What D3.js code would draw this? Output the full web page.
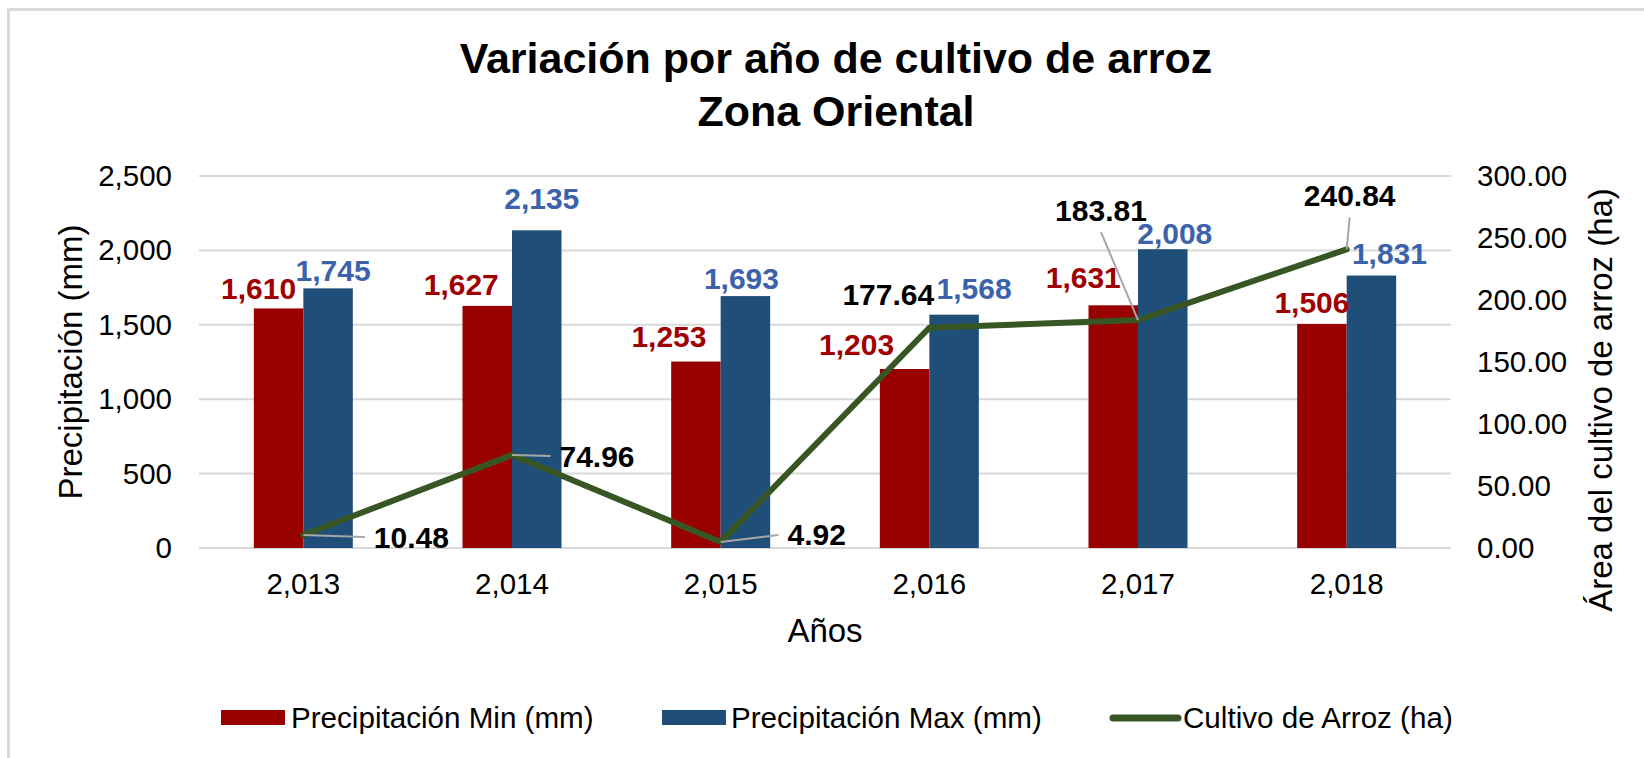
<!DOCTYPE html>
<html lang="es">
<head>
<meta charset="utf-8">
<script src="https://cdn.jsdelivr.net/npm/d3@7"></script>
<style>
  html, body { margin: 0; padding: 0; background: #fff; }
  svg { display: block; font-family: "Liberation Sans", Arial, sans-serif; }
</style>
</head>
<body>
<svg id="chart" width="1644" height="758"></svg>
<script>
// --- data ---------------------------------------------------------------
const years = [2013, 2014, 2015, 2016, 2017, 2018];
const precipMin = [1610, 1627, 1253, 1203, 1631, 1506];
const precipMax = [1745, 2135, 1693, 1568, 2008, 1831];
const riceArea = [10.48, 74.96, 4.92, 177.64, 183.81, 240.84];
const leftTicks = [0, 500, 1000, 1500, 2000, 2500];
const rightTicks = [0, 50, 100, 150, 200, 250, 300];
const seriesNames = ["Precipitación Min (mm)", "Precipitación Max (mm)", "Cultivo de Arroz (ha)"];

// --- hand-placed data label offsets (label centre relative to the mark) --
const minLabelShift = [[-20, -20], [-26, -21], [-27, -25], [-48, -24], [-30, -28], [-10, -21]];
const maxLabelShift = [[5, -18], [5, -32], [-4, -18], [20, -26], [12, -16], [18, -22]];
const areaLabelShift = [[108, 2], [85, 1], [96, -7], [-41, -33], [-37, -110], [3, -54]];
const areaLeader = ["side", "side", "side", "none", "below", "below"];

// --- layout & style -------------------------------------------------------
const plot = { left: 199, right: 1451, top: 176, bottom: 548 };
const barW = 49.5;
const colors = { min: "#990000", max: "#1F4E79", line: "#375623",
                 minText: "#A00000", maxText: "#3B63AB", grid: "#D9D9D9" };
const fTick = 29.5, fAxisTitle = 33, fLabel = 30, fLegend = 29.6, fTitle = 43;

const svg = d3.select("#chart");

// chart frame (left and top edges)
svg.append("line").attr("x1", 8.5).attr("x2", 8.5).attr("y1", 8).attr("y2", 758)
  .attr("stroke", "#D9D9D9").attr("stroke-width", 3);
svg.append("line").attr("x1", 7).attr("x2", 1644).attr("y1", 9.5).attr("y2", 9.5)
  .attr("stroke", "#D9D9D9").attr("stroke-width", 3);

// title
const title = svg.append("text").attr("text-anchor", "middle")
  .attr("font-weight", "bold").attr("font-size", fTitle).attr("fill", "#000");
title.append("tspan").attr("x", 836).attr("y", 73).text("Variación por año de cultivo de arroz");
title.append("tspan").attr("x", 836).attr("y", 126).text("Zona Oriental");

// scales
const x = d3.scaleBand().domain(years).range([plot.left, plot.right]);
const xSub = d3.scaleBand().domain(["min", "max"])
  .range([x.bandwidth() / 2 - barW, x.bandwidth() / 2 + barW]);
const yL = d3.scaleLinear().domain([0, 2500]).range([plot.bottom, plot.top]);
const yR = d3.scaleLinear().domain([0, 300]).range([plot.bottom, plot.top]);

// gridlines
svg.append("g").selectAll("line").data(leftTicks).join("line")
  .attr("x1", plot.left).attr("x2", plot.right)
  .attr("y1", d => yL(d)).attr("y2", d => yL(d))
  .attr("stroke", colors.grid).attr("stroke-width", 2);

// axes
const styleAxis = g => {
  g.select(".domain").remove();
  g.selectAll(".tick line").remove();
  g.selectAll("text").attr("font-size", fTick).attr("fill", "#000")
    .attr("font-family", "Liberation Sans, Arial, sans-serif");
};
svg.append("g").attr("transform", `translate(${plot.left},0)`)
  .call(d3.axisLeft(yL).tickValues(leftTicks).tickFormat(d3.format(",")).tickSize(0).tickPadding(27))
  .call(styleAxis);
svg.append("g").attr("transform", `translate(${plot.right},0)`)
  .call(d3.axisRight(yR).tickValues(rightTicks).tickFormat(d3.format(".2f")).tickSize(0).tickPadding(26))
  .call(styleAxis);
svg.append("g").attr("transform", `translate(0,${plot.bottom})`)
  .call(d3.axisBottom(x).tickFormat(d3.format(",")).tickSize(0).tickPadding(25))
  .call(styleAxis);

// axis titles
svg.append("text").attr("text-anchor", "middle").attr("font-size", fAxisTitle)
  .attr("transform", `translate(${70 + 0.35 * fAxisTitle},362) rotate(-90)`)
  .text("Precipitación (mm)");
svg.append("text").attr("text-anchor", "middle").attr("font-size", fAxisTitle)
  .attr("transform", `translate(${1600 + 0.35 * fAxisTitle},400) rotate(-90)`)
  .text("Área del cultivo de arroz (ha)");
svg.append("text").attr("text-anchor", "middle").attr("font-size", fAxisTitle)
  .attr("x", (plot.left + plot.right) / 2).attr("y", 642).text("Años");

// bars
const rows = years.map((yr, i) => ({ yr, i, min: precipMin[i], max: precipMax[i], area: riceArea[i] }));
const groups = svg.append("g").selectAll("g").data(rows).join("g")
  .attr("transform", d => `translate(${x(d.yr)},0)`);
groups.append("rect").attr("x", xSub("min")).attr("width", xSub.bandwidth())
  .attr("y", d => yL(d.min)).attr("height", d => yL(0) - yL(d.min)).attr("fill", colors.min);
groups.append("rect").attr("x", xSub("max")).attr("width", xSub.bandwidth())
  .attr("y", d => yL(d.max)).attr("height", d => yL(0) - yL(d.max)).attr("fill", colors.max);

// rice area line
const cx = d => x(d.yr) + x.bandwidth() / 2;
svg.append("path").datum(rows)
  .attr("d", d3.line().x(cx).y(d => yR(d.area)))
  .attr("fill", "none").attr("stroke", colors.line).attr("stroke-width", 6)
  .attr("stroke-linejoin", "round").attr("stroke-linecap", "round");

// bar value labels
const fmtInt = d3.format(",");
svg.append("g").selectAll("text").data(rows).join("text")
  .attr("text-anchor", "middle").attr("font-weight", "bold").attr("font-size", fLabel)
  .attr("fill", colors.minText)
  .attr("x", d => x(d.yr) + xSub("min") + xSub.bandwidth() / 2 + minLabelShift[d.i][0])
  .attr("y", d => yL(d.min) + minLabelShift[d.i][1]).attr("dy", "0.35em")
  .text(d => fmtInt(d.min));
svg.append("g").selectAll("text").data(rows).join("text")
  .attr("text-anchor", "middle").attr("font-weight", "bold").attr("font-size", fLabel)
  .attr("fill", colors.maxText)
  .attr("x", d => x(d.yr) + xSub("max") + xSub.bandwidth() / 2 + maxLabelShift[d.i][0])
  .attr("y", d => yL(d.max) + maxLabelShift[d.i][1]).attr("dy", "0.35em")
  .text(d => fmtInt(d.max));

// rice area labels with leader lines
const fmtArea = d3.format(".2f");
const leaders = svg.append("g");
const areaText = svg.append("g").selectAll("text").data(rows).join("text")
  .attr("text-anchor", "middle").attr("font-weight", "bold").attr("font-size", fLabel)
  .attr("fill", "#000")
  .attr("x", d => cx(d) + areaLabelShift[d.i][0])
  .attr("y", d => yR(d.area) + areaLabelShift[d.i][1]).attr("dy", "0.35em")
  .text(d => fmtArea(d.area));
areaText.each(function (d) {
  const kind = areaLeader[d.i];
  if (kind === "none") return;
  const w = this.getComputedTextLength();
  const px = cx(d), py = yR(d.area);
  const lx = px + areaLabelShift[d.i][0], ly = py + areaLabelShift[d.i][1];
  const end = kind === "side" ? [lx - w / 2 - 9, ly] : [lx, ly + 22];
  leaders.append("line").attr("x1", px).attr("y1", py).attr("x2", end[0]).attr("y2", end[1])
    .attr("stroke", "#A6A6A6").attr("stroke-width", 2);
});

// legend
const legendY = 718;
const legend = svg.append("g").attr("font-size", fLegend);
legend.append("rect").attr("x", 221).attr("y", legendY - 8).attr("width", 64).attr("height", 15).attr("fill", colors.min);
legend.append("text").attr("x", 291).attr("y", legendY).attr("dy", "0.35em").text(seriesNames[0]);
legend.append("rect").attr("x", 662).attr("y", legendY - 8).attr("width", 64).attr("height", 15).attr("fill", colors.max);
legend.append("text").attr("x", 731).attr("y", legendY).attr("dy", "0.35em").text(seriesNames[1]);
legend.append("line").attr("x1", 1113).attr("x2", 1178).attr("y1", legendY).attr("y2", legendY)
  .attr("stroke", colors.line).attr("stroke-width", 7).attr("stroke-linecap", "round");
legend.append("text").attr("x", 1183).attr("y", legendY).attr("dy", "0.35em").text(seriesNames[2]);
</script>
</body>
</html>
